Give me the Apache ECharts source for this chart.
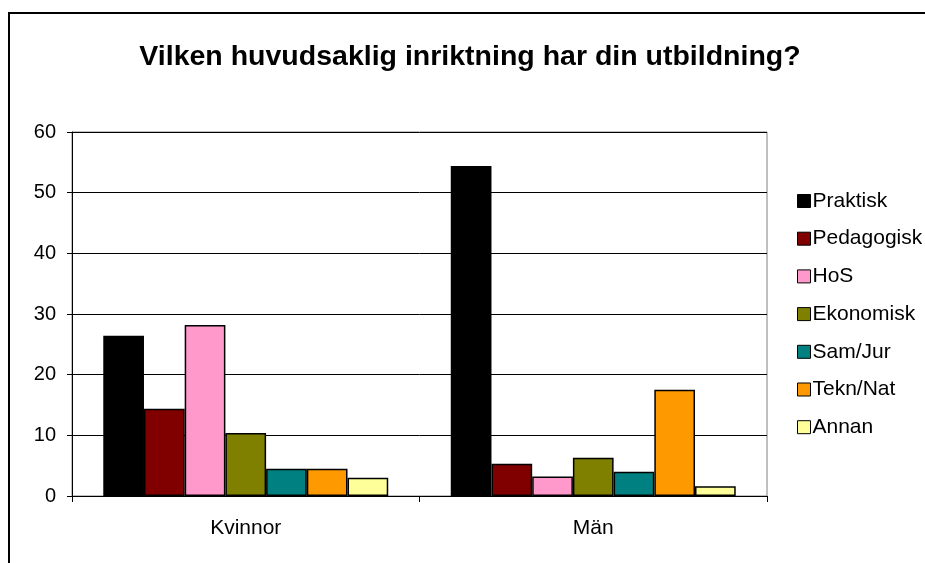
<!DOCTYPE html>
<html>
<head>
<meta charset="utf-8">
<script src="https://cdn.jsdelivr.net/npm/echarts@6/dist/echarts.min.js"></script>
<style>
    body { margin: 0; background: #fff; }
    .frame {
        position: absolute;
        left: 8px;
        top: 12px;
        width: 930px;
        height: 560px;
        border-left: 2px solid #000;
        border-top: 2px solid #000;
    }
    #chart { position: absolute; left: 0; top: 0; width: 925px; height: 563px; }
</style>
</head>
<body>
<div class="frame"></div>
<div id="chart"></div>
<script>
const categories = ['Kvinnor', 'Män'];
const seriesNames = ['Praktisk', 'Pedagogisk', 'HoS', 'Ekonomisk', 'Sam/Jur', 'Tekn/Nat', 'Annan'];
const praktisk = [26.4, 54.4];
const pedagogisk = [14.4, 5.3];
const hos = [28.2, 3.2];
const ekonomisk = [10.4, 6.3];
const samJur = [4.5, 4.0];
const teknNat = [4.5, 17.5];
const annan = [3.0, 1.6];
const colors = ['#000000', '#800000', '#FF99CC', '#808000', '#008080', '#FF9900', '#FFFF99'];

const values = [praktisk, pedagogisk, hos, ekonomisk, samJur, teknNat, annan];

const chart = echarts.init(document.getElementById('chart'));
const font = "'Liberation Sans', Arial, sans-serif";

const option = {
    animation: false,
    textStyle: { fontFamily: font },
    title: {
        text: 'Vilken huvudsaklig inriktning har din utbildning?',
        left: 465,
        top: 38,
        textAlign: 'center',
        textStyle: { fontSize: 28.5, fontWeight: 'bold', color: '#000', fontFamily: font }
    },
    legend: {
        orient: 'vertical',
        left: 792,
        top: 185,
        itemWidth: 13,
        itemHeight: 13,
        itemGap: 15.7,
        icon: 'rect',
        itemStyle: { borderColor: '#000', borderWidth: 1 },
        textStyle: { fontSize: 21, lineHeight: 22, color: '#000', padding: [0, 0, 0, -3] },
        data: seriesNames
    },
    grid: {
        left: 72,
        right: 158,
        top: 132,
        bottom: 67,
        show: true,
        borderColor: '#808080',
        borderWidth: 1
    },
    xAxis: {
        type: 'category',
        data: categories,
        axisLine: { lineStyle: { color: '#000', width: 1 } },
        axisTick: { show: true, length: 6, lineStyle: { color: '#000' } },
        axisLabel: { fontSize: 21, color: '#000', margin: 22 }
    },
    yAxis: {
        type: 'value',
        min: 0,
        max: 60,
        interval: 10,
        axisLine: { show: true, lineStyle: { color: '#000', width: 1 } },
        axisTick: { show: true, length: 5, lineStyle: { color: '#000' } },
        axisLabel: { fontSize: 20, color: '#000', margin: 16 },
        splitLine: { lineStyle: { color: '#000', width: 1 } }
    },
    series: seriesNames.map((name, i) => ({
        name: name,
        type: 'bar',
        data: values[i],
        barGap: '0%',
        barCategoryGap: '18%',
        itemStyle: { color: colors[i], borderColor: '#000', borderWidth: 1.5 }
    }))
};
chart.setOption(option);
</script>
</body>
</html>
